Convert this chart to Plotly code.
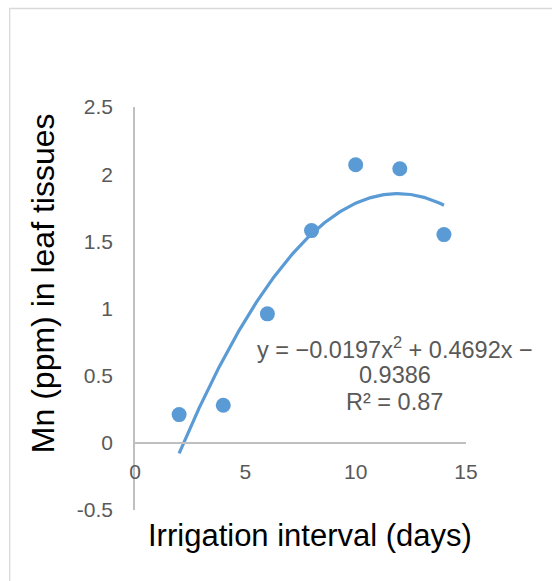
import numpy as np
import plotly.graph_objects as go

# Data
interval_days = [2, 4, 6, 8, 10, 12, 14]
mn_ppm = [0.21, 0.28, 0.96, 1.58, 2.07, 2.04, 1.55]

# Polynomial trendline coefficients (as shown on the chart)
coef_a = -0.0197
coef_b = 0.4692
coef_c = -0.9386
r_squared = 0.87

x_tickvals = [0, 5, 10, 15]
x_ticktext = ["0", "5", "10", "15"]
y_tickvals = [-0.5, 0, 0.5, 1, 1.5, 2, 2.5]
y_ticktext = ["-0.5", "0", "0.5", "1", "1.5", "2", "2.5"]

BLUE = "#5B9BD5"
GRAY_TXT = "#595959"
AXIS = "#BFBFBF"
FONT = "Arial, Liberation Sans, sans-serif"

W, H = 552, 581
L, R, T, B = 135, 85.5, 107, 71
pw = W - L - R
ph = H - T - B

def px_to_paper_x(px):
    return (px - L) / pw

def px_to_paper_y(py):
    return (H - B - py) / ph

fig = go.Figure()

xt = np.linspace(min(interval_days), max(interval_days), 200)
yt = coef_a * xt**2 + coef_b * xt + coef_c
fig.add_trace(go.Scatter(x=xt, y=yt, mode="lines",
                         line=dict(color=BLUE, width=3.2), hoverinfo="skip",
                         showlegend=False))
fig.add_trace(go.Scatter(x=interval_days, y=mn_ppm, mode="markers",
                         marker=dict(color=BLUE, size=15),
                         showlegend=False))

yr = [-0.5, 2.5]
zero_frac = (0 - yr[0]) / (yr[1] - yr[0])

eq_lines = [
    f"y = \u2212{abs(coef_a):.4f}x<sup>2</sup> + {coef_b:.4f}x \u2212",
    f"{abs(coef_c):.4f}",
    f"R\u00b2 = {r_squared:.2f}",
]
eq_y_px = [348, 375, 402]

annotations = [
    dict(text="Irrigation interval (days)", xref="paper", yref="paper",
         x=px_to_paper_x(310), y=px_to_paper_y(535),
         xanchor="center", yanchor="middle", showarrow=False,
         font=dict(size=31, color="black", family=FONT)),
    dict(text="Mn (ppm) in leaf tissues", xref="paper", yref="paper",
         x=px_to_paper_x(43), y=px_to_paper_y(283), textangle=-90,
         xanchor="center", yanchor="middle", showarrow=False,
         font=dict(size=32, color="black", family=FONT)),
]
for txt, ypx in zip(eq_lines, eq_y_px):
    annotations.append(dict(text=txt, xref="paper", yref="paper",
                            x=px_to_paper_x(395), y=px_to_paper_y(ypx),
                            xanchor="center", yanchor="middle",
                            showarrow=False,
                            font=dict(size=23.5, color=GRAY_TXT, family=FONT)))

fig.update_layout(
    width=W, height=H,
    margin=dict(l=L, r=R, t=T, b=B),
    paper_bgcolor="white", plot_bgcolor="white",
    font=dict(family=FONT, color=GRAY_TXT),
    xaxis=dict(range=[0, 15], tickvals=x_tickvals, ticktext=x_ticktext,
               showgrid=False, zeroline=False, showline=True,
               linecolor=AXIS, linewidth=1.5, anchor="free",
               position=zero_frac, ticks="", ticklabelstandoff=10,
               tickfont=dict(size=21, color=GRAY_TXT, family=FONT)),
    yaxis=dict(range=yr, tickvals=y_tickvals, ticktext=y_ticktext,
               showgrid=False, zeroline=False, showline=True,
               linecolor=AXIS, linewidth=1.5, ticks="",
               ticklabelstandoff=16,
               tickfont=dict(size=21, color=GRAY_TXT, family=FONT)),
    shapes=[dict(type="rect", xref="paper", yref="paper",
                 x0=px_to_paper_x(9.5), x1=px_to_paper_x(600),
                 y0=px_to_paper_y(640), y1=px_to_paper_y(8.5),
                 line=dict(color="#D9D9D9", width=1.3), layer="below")],
    annotations=annotations,
)

fig.write_html("out.html")
